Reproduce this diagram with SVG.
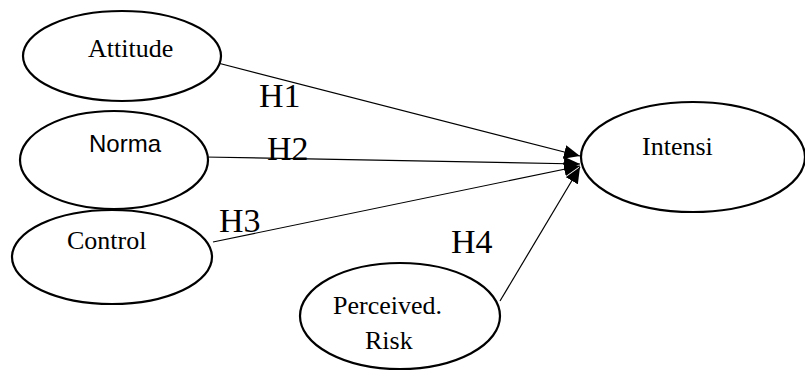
<svg xmlns="http://www.w3.org/2000/svg" width="805" height="372" viewBox="0 0 805 372">
  <style>
    .node ellipse { fill: #ffffff; stroke: #000000; stroke-width: 2.2; }
    .lbl { font-family: "Liberation Serif", "Times New Roman", serif; font-size: 26px; fill: #000000; }
    .lbl-sans { font-family: "Liberation Sans", Arial, sans-serif; font-size: 24px; fill: #000000; }
    .hyp { font-family: "Liberation Serif", "Times New Roman", serif; font-size: 34px; fill: #000000; }
    .edge { stroke: #000000; stroke-width: 1.2; fill: none; marker-end: url(#arrow); }
  </style>
  <defs>
    <marker id="arrow" markerUnits="userSpaceOnUse" markerWidth="18" markerHeight="14" refX="16" refY="7" orient="auto">
      <path d="M0,0 L16,7 L0,14 Z" fill="#000000"/>
    </marker>
  </defs>
  <rect width="805" height="372" fill="#ffffff"/>

  <!-- connectors: each construct points to Intensi -->
  <g id="connectors">
    <line class="edge" x1="214" y1="62" x2="580" y2="156"/>
    <line class="edge" x1="204" y1="157" x2="580" y2="164"/>
    <line class="edge" x1="213" y1="242" x2="580" y2="166"/>
    <line class="edge" x1="500" y1="301" x2="580" y2="167"/>
  </g>

  <!-- hypothesis labels -->
  <g id="hypotheses">
    <text class="hyp" x="259" y="107">H1</text>
    <text class="hyp" x="267" y="160">H2</text>
    <text class="hyp" x="219" y="232">H3</text>
    <text class="hyp" x="451" y="253">H4</text>
  </g>

  <g id="attitude" class="node">
    <ellipse cx="122" cy="56" rx="99" ry="45"/>
    <text class="lbl" x="88" y="57">Attitude</text>
  </g>

  <g id="norma" class="node">
    <ellipse cx="114" cy="160" rx="94" ry="49"/>
    <text class="lbl-sans" x="89" y="152">Norma</text>
  </g>

  <g id="control" class="node">
    <ellipse cx="112" cy="257" rx="100" ry="47"/>
    <text class="lbl" x="67" y="249">Control</text>
  </g>

  <g id="perceived-risk" class="node">
    <ellipse cx="400" cy="316" rx="100" ry="53"/>
    <text class="lbl" x="333" y="314">Perceived.</text>
    <text class="lbl" x="365" y="349">Risk</text>
  </g>

  <g id="intensi" class="node">
    <ellipse cx="693" cy="157" rx="112" ry="55"/>
    <text class="lbl" x="642" y="155">Intensi</text>
  </g>
</svg>
